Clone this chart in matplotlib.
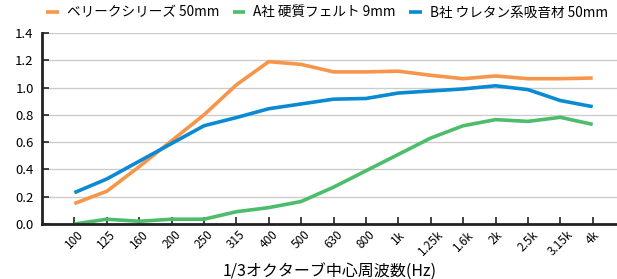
import matplotlib
matplotlib.use("Agg")
import matplotlib.pyplot as plt

plt.rcParams['font.family'] = ['Noto Sans CJK JP', 'DejaVu Sans']

## Data
freqs = ['100', '125', '160', '200', '250', '315', '400', '500', '630', '800',
         '1k', '1.25k', '1.6k', '2k', '2.5k', '3.15k', '4k']
verik = [0.15, 0.24, 0.42, 0.61, 0.80, 1.02, 1.19, 1.17, 1.115, 1.115,
         1.12, 1.09, 1.065, 1.085, 1.065, 1.065, 1.07]
felt_a = [0.00, 0.035, 0.02, 0.035, 0.035, 0.09, 0.12, 0.165, 0.27, 0.39,
          0.51, 0.63, 0.72, 0.765, 0.752, 0.782, 0.73]
urethane_b = [0.23, 0.33, 0.46, 0.59, 0.72, 0.78, 0.845, 0.88, 0.915, 0.92,
              0.96, 0.975, 0.99, 1.013, 0.985, 0.905, 0.86]
labels = ['ベリークシリーズ 50mm', 'A社 硬質フェルト 9mm', 'B社 ウレタン系吸音材 50mm']
colors = ['#F7964A', '#4DBD6B', '#0A8AD2']

fig = plt.figure(figsize=(6.17, 2.79), dpi=100)
ax = fig.add_axes([42 / 617, 55 / 279, 1 - 42 / 617, 191 / 279])

x = range(len(freqs))
for ys, lab, c in zip([verik, felt_a, urethane_b], labels, colors):
    ax.plot(x, ys, color=c, lw=2.6, label=lab, solid_capstyle='butt')

ax.set_xlim(-1, 16.75)
ax.set_ylim(0, 1.4)
ax.set_yticks([0, 0.2, 0.4, 0.6, 0.8, 1.0, 1.2, 1.4])
ax.set_yticklabels(['%.1f' % v for v in ax.get_yticks()], fontsize=9.5)
ax.set_xticks(list(x))
ax.set_xticklabels(freqs, rotation=45, fontsize=8.5, ha='center', va='top')
ax.tick_params(axis='both', direction='in', length=5, width=1.2, color='#222222')
ax.tick_params(axis='y', pad=6)
ax.tick_params(axis='x', pad=3)
ax.grid(axis='y', color='#cccccc', lw=1)
ax.set_axisbelow(True)
for s in ['top', 'right']:
    ax.spines[s].set_visible(False)
for s in ['left', 'bottom']:
    ax.spines[s].set_linewidth(2)
    ax.spines[s].set_color('#222222')

ax.set_xlabel('1/3オクターブ中心周波数(Hz)', fontsize=11.5, labelpad=3)

fig.legend(loc='upper right', bbox_to_anchor=(1.005, 1.025), ncol=3, frameon=False,
           handlelength=0.9, handletextpad=0.6, columnspacing=1.0, fontsize=9.8)

fig.savefig('out.png', dpi=100)
